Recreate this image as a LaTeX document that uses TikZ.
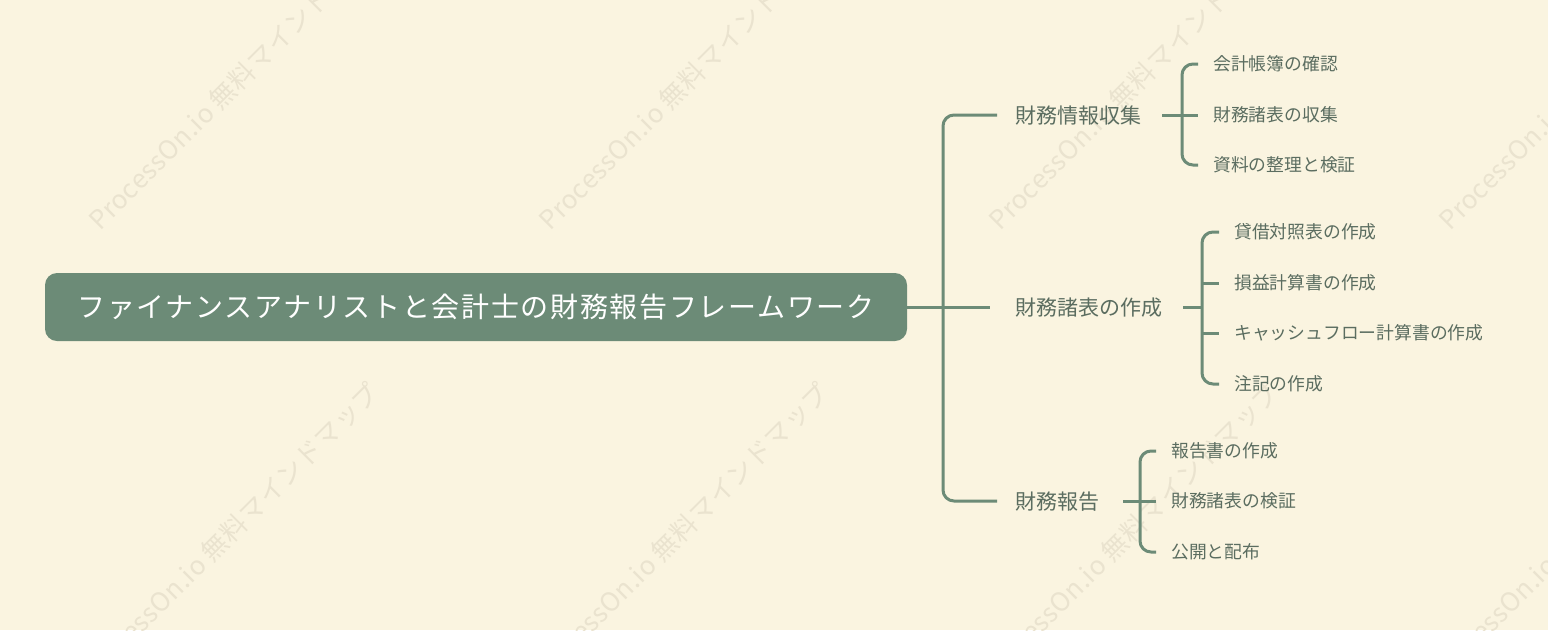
\documentclass[tikz,border=0pt]{standalone}
\usepackage{fontspec}
\newfontfamily\jpfont{Noto Sans CJK JP}
\newfontfamily\jprootfont{Noto Sans CJK JP}[LetterSpace=6]
\newfontfamily\wmfont{Noto Sans CJK JP}[LetterSpace=2]
\definecolor{bgc}{HTML}{FAF4E0}
\definecolor{lineg}{HTML}{6C8B77}
\definecolor{rootg}{HTML}{6C8B77}
\definecolor{txtg}{HTML}{5B6D60}
\definecolor{wmc}{HTML}{EAE3CF}
\begin{document}
\begin{tikzpicture}[x=1pt,y=-1pt,
  conn/.style={draw=lineg, line width=3pt, rounded corners=11pt},
  rootbox/.style={fill=rootg, rounded corners=12pt, minimum width=862pt, minimum height=68pt,
    inner sep=0pt, text=white, text height=24.6pt, text depth=3.4pt,
    font=\jprootfont\fontsize{28}{32}\selectfont},
  lone/.style={inner sep=0pt, text=txtg, anchor=west, text height=18.5pt, text depth=2.5pt,
    font=\jpfont\fontsize{21}{24}\selectfont},
  ltwo/.style={inner sep=0pt, text=txtg, anchor=west, text height=15.7pt, text depth=2.1pt,
    font=\jpfont\fontsize{17.8}{20}\selectfont},
  wm/.style={text=wmc, font=\wmfont\fontsize{26}{30}\selectfont, rotate=45,
    anchor=base west, inner sep=0pt}]
\useasboundingbox (0,0) rectangle (1548,630);
\fill[bgc] (0,0) rectangle (1548,630);
% watermarks
\begin{scope}
\clip (0,0) rectangle (1548,630);
\foreach \k in {0,1,2,3}{
  \node[wm] (wa\k) at (100+450*\k,232) {ProcessOn.io 無料マインドマップ};
  \node[wm] (wb\k) at (92+450*\k,684) {ProcessOn.io 無料マインドマップ};
}
\end{scope}
% nodes
\node[rootbox] (root) at (476,307) {ファイナンスアナリストと会計士の財務報告フレームワーク};
\node[lone] (a) at (1015,115) {財務情報収集};
\node[lone] (b) at (1015,307) {財務諸表の作成};
\node[lone] (c) at (1015,501) {財務報告};
\node[ltwo] (a1) at (1213,64) {会計帳簿の確認};
\node[ltwo] (a2) at (1213,115) {財務諸表の収集};
\node[ltwo] (a3) at (1213,165) {資料の整理と検証};
\node[ltwo] (b1) at (1234,232) {貸借対照表の作成};
\node[ltwo] (b2) at (1234,283) {損益計算書の作成};
\node[ltwo] (b3) at (1234,333) {キャッシュフロー計算書の作成};
\node[ltwo] (b4) at (1234,384) {注記の作成};
\node[ltwo] (c1) at (1171,451) {報告書の作成};
\node[ltwo] (c2) at (1171,501) {財務諸表の検証};
\node[ltwo] (c3) at (1171,552) {公開と配布};
% main connectors
\coordinate (hub) at (943,307);
\draw[conn] (root.east) -- (hub);
\draw[conn] (hub) |- ([xshift=-18pt]a.west);
\draw[conn] (hub) -- ([xshift=-25pt]b.west);
\draw[conn] (hub) |- ([xshift=-18pt]c.west);
% group A
\draw[conn] ([xshift=-15pt]a1.west) -- ([xshift=-31pt]a1.west) -- ([xshift=-31pt]a3.west) -- ([xshift=-15pt]a3.west);
\draw[conn] ([xshift=21pt]a.east) -- ([xshift=-15pt]a2.west);
% group B
\coordinate (sB) at ([xshift=-32pt]b1.west);
\draw[conn] ([xshift=-15pt]b1.west) -- ([xshift=-32pt]b1.west) -- ([xshift=-32pt]b4.west) -- ([xshift=-15pt]b4.west);
\draw[conn] ([xshift=-32pt]b2.west) -- ([xshift=-15pt]b2.west);
\draw[conn] ([xshift=-32pt]b3.west) -- ([xshift=-15pt]b3.west);
\draw[conn] ([xshift=21pt]b.east) -- (sB |- b.east);
% group C
\draw[conn] ([xshift=-15pt]c1.west) -- ([xshift=-31pt]c1.west) -- ([xshift=-31pt]c3.west) -- ([xshift=-15pt]c3.west);
\draw[conn] ([xshift=24pt]c.east) -- ([xshift=-15pt]c2.west);
\end{tikzpicture}
\end{document}
